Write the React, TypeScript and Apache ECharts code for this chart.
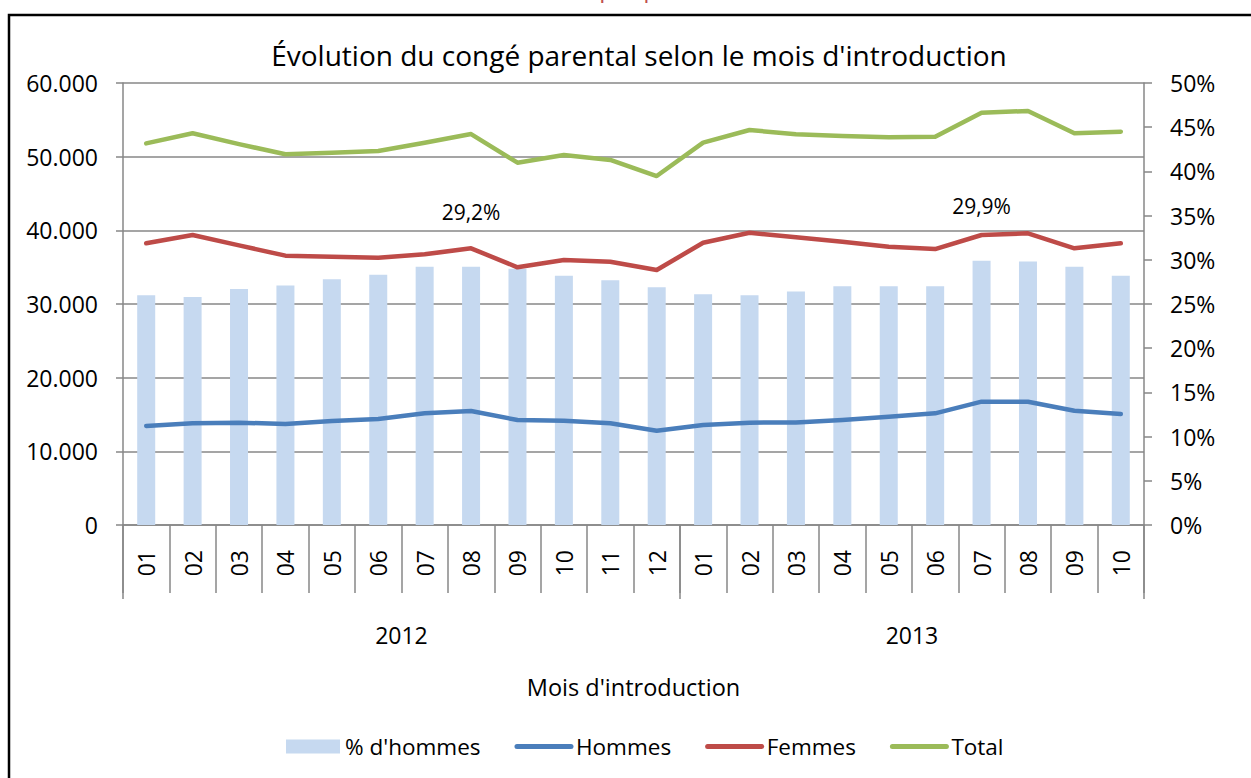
import React, { useEffect, useRef } from "react";
import * as echarts from "echarts";

const months = ["01","02","03","04","05","06","07","08","09","10","11","12","01","02","03","04","05","06","07","08","09","10"];
const yearLabels = ["2012", "2013"];
const yearSizes = [12, 10];
const pctHommes = [26.0,25.8,26.7,27.1,27.8,28.3,29.2,29.2,29.0,28.2,27.7,26.9,26.1,26.0,26.4,27.0,27.0,27.0,29.9,29.8,29.2,28.2];
const hommes = [13440,13800,13890,13710,14120,14390,15160,15470,14250,14160,13800,12800,13570,13890,13920,14250,14700,15160,16740,16740,15520,15070];
const femmes = [38240,39370,37960,36560,36420,36290,36740,37560,34980,35970,35740,34610,38320,39680,39050,38460,37780,37460,39370,39590,37560,38240];
const total = [51800,53170,51700,50320,50540,50770,51900,53070,49180,50220,49550,47370,51900,53620,53030,52800,52620,52710,55970,56200,53170,53390];
const labelledBars = [7, 18];

const FONT = "'Open Sans', 'Noto Sans', sans-serif";
const GRID_COLOR = "#878787";

export default function App() {
  const ref = useRef<HTMLDivElement>(null);
  useEffect(() => {
    if (!ref.current) return;
    const chart = echarts.init(ref.current, undefined, { renderer: "svg" });

    const bounds: number[] = [0];
    yearSizes.forEach((s) => bounds.push(bounds[bounds.length - 1] + s));
    const centers = yearSizes.map((s, i) => bounds[i] + s / 2);

    const fmtPct = (v: number) => `${v.toFixed(1).replace(".", ",")}%`;
    const barData = pctHommes.map((v, i) => {
      if (labelledBars.indexOf(i) < 0) return v;
      return {
        value: v,
        label: {
          show: true,
          position: "top",
          distance: 44,
          formatter: (p: any) => fmtPct(p.value),
          color: "#000",
          fontFamily: FONT,
          fontSize: 21,
        },
      };
    });

    const hiddenSymbol = { opacity: 0 };

    const option: any = {
      animation: false,
      backgroundColor: "#fff",
      textStyle: { fontFamily: FONT },
      title: {
        text: "Évolution du congé parental selon le mois d'introduction",
        left: 634,
        textAlign: "center",
        top: 36,
        textStyle: { fontFamily: FONT, fontSize: 28, fontWeight: "normal", color: "#000" },
      },
      graphic: [
        {
          type: "rect",
          shape: { x: 9, y: 15, width: 1300, height: 800 },
          style: { fill: "none", stroke: "#000", lineWidth: 2.5 },
          z: -10,
        },
        {
          type: "text",
          x: 635,
          y: -1,
          style: {
            text: "Graphique 10",
            fill: "#C0504D",
            font: `24px ${FONT}`,
            textAlign: "center",
            textVerticalAlign: "bottom",
          },
        },
      ],
      legend: {
        left: 281,
        top: 730,
        itemWidth: 54,
        itemHeight: 14,
        itemGap: 34,
        textStyle: { fontFamily: FONT, fontSize: 22.5, color: "#000" },
        lineStyle: { width: 5, cap: "round" },
        data: [
          { name: "% d'hommes", icon: "rect" },
          { name: "Hommes", itemStyle: hiddenSymbol },
          { name: "Femmes", itemStyle: hiddenSymbol },
          { name: "Total", itemStyle: hiddenSymbol },
        ],
      },
      grid: { left: 123, right: 107, top: 83, bottom: 253, containLabel: false },
      xAxis: [
        {
          type: "category",
          data: months,
          boundaryGap: true,
          axisLine: { show: true, lineStyle: { color: GRID_COLOR, width: 1.5 } },
          axisTick: { show: true, interval: 0, length: 68, alignWithLabel: false, lineStyle: { color: GRID_COLOR, width: 1.5 } },
          axisLabel: { interval: 0, rotate: 90, margin: 25, color: "#000", fontFamily: FONT, fontSize: 23 },
          name: "Mois d'introduction",
          nameLocation: "middle",
          nameGap: 150,
          nameTextStyle: { fontFamily: FONT, fontSize: 23.5, color: "#000" },
        },
        {
          type: "value",
          min: 0,
          max: bounds[bounds.length - 1],
          position: "bottom",
          offset: 68,
          axisLine: { show: false },
          splitLine: { show: false },
          axisTick: { show: true, customValues: bounds, length: 74, lineStyle: { color: GRID_COLOR, width: 1.5 } },
          axisLabel: {
            customValues: centers,
            margin: 30,
            color: "#000",
            fontFamily: FONT,
            fontSize: 23,
            formatter: (v: number) => {
              const i = centers.findIndex((c) => Math.abs(c - v) < 0.01);
              return i >= 0 ? yearLabels[i] : "";
            },
          },
        },
      ],
      yAxis: [
        {
          type: "value",
          min: 0,
          max: 60000,
          interval: 10000,
          position: "left",
          axisLine: { show: true, lineStyle: { color: GRID_COLOR, width: 1.5 } },
          axisTick: { show: true, length: 7, lineStyle: { color: GRID_COLOR, width: 1.5 } },
          splitLine: { show: true, lineStyle: { color: GRID_COLOR, width: 1.5 } },
          axisLabel: {
            margin: 25,
            color: "#000",
            fontFamily: FONT,
            fontSize: 23,
            formatter: (v: number) => (v === 0 ? "0" : `${v / 1000}.000`),
          },
        },
        {
          type: "value",
          min: 0,
          max: 50,
          interval: 5,
          position: "right",
          axisLine: { show: true, lineStyle: { color: GRID_COLOR, width: 1.5 } },
          axisTick: { show: true, length: 8, lineStyle: { color: GRID_COLOR, width: 1.5 } },
          splitLine: { show: false },
          axisLabel: {
            margin: 26,
            color: "#000",
            fontFamily: FONT,
            fontSize: 23,
            formatter: (v: number) => `${v}%`,
          },
        },
      ],
      series: [
        {
          name: "% d'hommes",
          type: "bar",
          xAxisIndex: 0,
          yAxisIndex: 1,
          barWidth: 18,
          itemStyle: { color: "#C6D9F0" },
          data: barData,
          z: 1,
        },
        {
          name: "Hommes",
          type: "line",
          xAxisIndex: 0,
          yAxisIndex: 0,
          symbol: "none",
          lineStyle: { color: "#4A7EBB", width: 4.5, cap: "round", join: "round" },
          itemStyle: { color: "#4A7EBB" },
          data: hommes,
          z: 3,
        },
        {
          name: "Femmes",
          type: "line",
          xAxisIndex: 0,
          yAxisIndex: 0,
          symbol: "none",
          lineStyle: { color: "#BE4B48", width: 4.5, cap: "round", join: "round" },
          itemStyle: { color: "#BE4B48" },
          data: femmes,
          z: 3,
        },
        {
          name: "Total",
          type: "line",
          xAxisIndex: 0,
          yAxisIndex: 0,
          symbol: "none",
          lineStyle: { color: "#9BBB59", width: 4.5, cap: "round", join: "round" },
          itemStyle: { color: "#9BBB59" },
          data: total,
          z: 3,
        },
      ],
    };
    chart.setOption(option);
    return () => chart.dispose();
  }, []);

  return (
    <div
      ref={ref}
      style={{ position: "absolute", left: 0, top: 0, width: 1251, height: 778, background: "#fff" }}
    />
  );
}
